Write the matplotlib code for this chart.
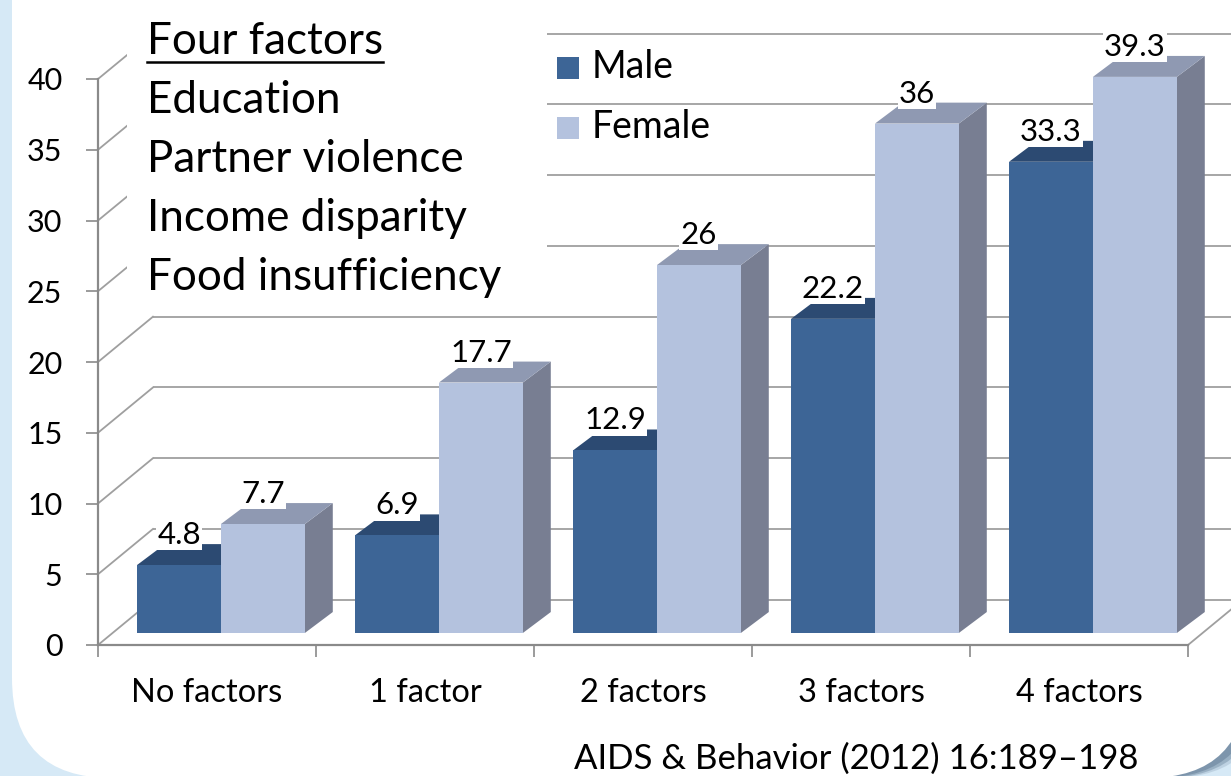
import matplotlib
matplotlib.use('Agg')
import matplotlib.pyplot as plt
from matplotlib.patches import Polygon, Rectangle, FancyBboxPatch
from matplotlib.transforms import Affine2D
from matplotlib.lines import Line2D

# ---------------- data ----------------
categories = ['No factors', '1 factor', '2 factors', '3 factors', '4 factors']
series = ['Male', 'Female']
male = [4.8, 6.9, 12.9, 22.2, 33.3]
female = [7.7, 17.7, 26, 36, 39.3]
y_ticks = [0, 5, 10, 15, 20, 25, 30, 35, 40]
box_lines = ['Four factors', 'Education', 'Partner violence',
             'Income disparity', 'Food insufficiency']
citation = 'AIDS & Behavior (2012) 16:189\u2013198'

# ---------------- style ----------------
FONT = ['Lato', 'DejaVu Sans']
plt.rcParams['font.family'] = FONT
W, H = 1231, 776
BG = '#d6e9f6'
GRID = '#9f9f9f'
AXC = '#8a8a8a'
MALE_FRONT, MALE_TOP, MALE_SIDE = '#3d6596', '#2c4a72', '#2f5079'
FEM_FRONT, FEM_TOP, FEM_SIDE = '#b4c2de', '#8f99b2', '#787e92'

# 3D projection (data units): wall depth, bar placement and bar depth
WDX, WDY = 0.252, 3.2
BAR_Y0 = 0.85
SHIFT = 0.064
BW = 0.385
BDX, BDY = 0.128, 1.48

fig = plt.figure(figsize=(W / 100, H / 100), dpi=100)
fig.patch.set_facecolor(BG)
PX = Affine2D().scale(1, -1).translate(0, H)  # pixel coords, y downward

# panel shadow (right side only) + panel
for off, a in [(22, 0.25), (16, 0.5), (10, 0.85)]:
    sh = FancyBboxPatch((12 + off, -300), 1235, 1078,
                        boxstyle='round,pad=0,rounding_size=100',
                        transform=PX, facecolor='#7891a8', edgecolor='none',
                        alpha=a, zorder=-3)
    fig.patches.append(sh)
panel = FancyBboxPatch((12, -300), 1235, 1078,
                       boxstyle='round,pad=0,rounding_size=100',
                       transform=PX, facecolor='white', edgecolor='none',
                       zorder=-2)
fig.patches.append(panel)

# ---------------- axes (front plane) ----------------
ax = fig.add_axes([98 / W, 1 - 645 / H, 1090 / W, 566 / H])
ax.set_xlim(0, 5)
ax.set_ylim(0, 40)
ax.patch.set_alpha(0)
for s in ['top', 'right']:
    ax.spines[s].set_visible(False)
for s in ['left', 'bottom']:
    ax.spines[s].set_color(AXC)
    ax.spines[s].set_linewidth(1.6)

ax.set_yticks(y_ticks)
ax.set_yticklabels([str(v) for v in y_ticks])
ax.tick_params(axis='y', direction='out', length=8.6, width=1.2, color=AXC,
               labelsize=22, pad=17)
n = len(categories)
ax.set_xticks(range(n + 1))
ax.set_xticklabels([])
ax.set_xticks([i + 0.5 for i in range(n)], minor=True)
ax.set_xticklabels(categories, minor=True)
ax.tick_params(axis='x', which='major', direction='out', length=8.6,
               width=1.2, color=AXC)
ax.tick_params(axis='x', which='minor', length=0, labelsize=23.5, pad=24)

# back wall gridlines + left wall diagonals + floor edge
for v in y_ticks:
    ax.plot([WDX, n + WDX], [v + WDY, v + WDY], color=GRID, lw=1.3,
            clip_on=False, zorder=1, solid_capstyle='butt')
    ax.plot([0, WDX], [v, v + WDY], color=GRID, lw=1.3, clip_on=False,
            zorder=1)
ax.plot([n, n + WDX], [0, WDY], color=GRID, lw=1.3, clip_on=False, zorder=1)


def draw_bar(xl, v, front, top, side, z):
    b = BAR_Y0
    ax.add_patch(Polygon([(xl + BW, b), (xl + BW + BDX, b + BDY),
                          (xl + BW + BDX, b + v + BDY), (xl + BW, b + v)],
                         closed=True, facecolor=side, edgecolor='none',
                         zorder=z, clip_on=False))
    ax.add_patch(Polygon([(xl, b + v), (xl + BW, b + v),
                          (xl + BW + BDX, b + v + BDY), (xl + BDX, b + v + BDY)],
                         closed=True, facecolor=top, edgecolor='none',
                         zorder=z, clip_on=False))
    ax.bar(xl, v, width=BW, bottom=b, align='edge', color=front,
           edgecolor='none', zorder=z + 0.5, clip_on=False)
    ax.text(xl + BW / 2, b + v + BDY, f'{v:g}', ha='center', va='baseline',
            fontsize=22.5, zorder=20,
            bbox=dict(facecolor='white', edgecolor='none', pad=0.8))


z = 3
for i in range(n):
    xm = i + 0.5 + SHIFT - BW
    draw_bar(xm, male[i], MALE_FRONT, MALE_TOP, MALE_SIDE, z)
    z += 1
    draw_bar(xm + BW, female[i], FEM_FRONT, FEM_TOP, FEM_SIDE, z)
    z += 1

# ---------------- text box (white, covers gridlines) ----------------
fig.patches.append(Rectangle((127, -10), 420, 312, transform=PX,
                             facecolor='white', edgecolor='none', zorder=1))
baselines = [54, 113, 172, 231, 290]
txts = []
for s, yb in zip(box_lines, baselines):
    txts.append(fig.text(147, yb, s, transform=PX, fontsize=31.7,
                         va='baseline', ha='left', zorder=4))

# ---------------- legend ----------------
leg_y = [68, 128]
leg_cols = [MALE_FRONT, FEM_FRONT]
for s, yc, c in zip(series, leg_y, leg_cols):
    fig.patches.append(Rectangle((557, yc - 11), 22, 22, transform=PX,
                                 facecolor=c, edgecolor='none', zorder=4))
    fig.text(592, yc + 10, s, transform=PX, fontsize=27, va='baseline',
             ha='left', zorder=4)

# ---------------- citation ----------------
fig.text(1138, 769, citation, transform=PX, fontsize=25, va='baseline',
         ha='right', zorder=4)

# underline of the title line
fig.canvas.draw()
bb = txts[0].get_window_extent()
fig.lines.append(Line2D([bb.x0, bb.x1], [H - 62, H - 62], color='black',
                        lw=1.8, zorder=4))

fig.savefig('out.png', dpi=100, facecolor=BG)
